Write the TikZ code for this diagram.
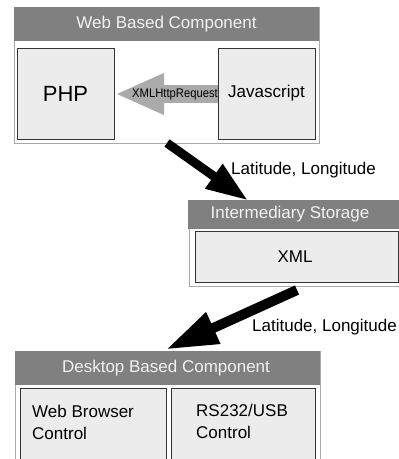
\documentclass[tikz,border=0pt]{standalone}
\usepackage{fontspec}
\setmainfont{Liberation Sans}
\usetikzlibrary{arrows.meta,calc}
\definecolor{tbar}{HTML}{808080}
\definecolor{ttext}{HTML}{F2F2F2}
\definecolor{ibox}{HTML}{ECECEC}
\definecolor{iline}{HTML}{333333}
\definecolor{oline}{HTML}{A8A8A8}
\definecolor{garrow}{HTML}{AAAAAA}
\tikzset{
  outerbox/.style={draw=oline,line width=0.9pt,fill=white},
  titlebar/.style={fill=tbar,text=ttext,inner sep=0pt,font=\fontsize{17}{20}\selectfont},
  innerbox/.style={draw=iline,fill=ibox,line width=1pt},
  lbl/.style={inner sep=0pt,font=\fontsize{17}{20}\selectfont},
  bigarrow/.style={line width=9pt,-{Triangle[length=42pt,width=28pt]}},
}
\begin{document}
\begin{tikzpicture}[x=1pt,y=-1pt]
\useasboundingbox (0,0) rectangle (399,459);
\clip (0,0) rectangle (399,459);
% Web Based Component
\draw[outerbox] (14,7) rectangle (319,143);
\fill[tbar] (14,7) rectangle (319,41);
\node[titlebar] (webtitle) at (166.5,24) {Web Based Component};
\draw[innerbox] (17,48) rectangle (114,139);
\node[lbl,font=\fontsize{22}{24}\selectfont] (php) at (65.5,93.5) {PHP};
\draw[innerbox] (218,48) rectangle (315,139);
\node[lbl] (js) at (266.5,93.5) {Javascript};
\coordinate (phpE) at (115,94);
\coordinate (jsW) at (217.5,94);
\begin{scope}[on background layer/.style={}]
\end{scope}
% XMLHttpRequest arrow (drawn under Javascript box edge)
\draw[garrow,line width=18pt,-{Triangle[length=49pt,width=38pt]}] (jsW) -- (phpE);
\draw[innerbox,fill=none] (218,48) rectangle (315,139);
\node[inner sep=0pt,font=\fontsize{12.5}{14}\selectfont,xscale=0.9] (xhr) at (175,94) {XMLHttpRequest};
% Intermediary Storage
\draw[outerbox] (189,200) rectangle (401,286);
\fill[tbar] (188,200) rectangle (401,229);
\node[titlebar] (istitle) at (290,214.5) {Intermediary Storage};
\draw[innerbox] (195,231) rectangle (398,282);
\node[lbl] (xml) at (295,256.5) {XML};
% Desktop Based Component
\draw[outerbox] (15,351) rectangle (320,470);
\fill[tbar] (15,351) rectangle (320,385);
\node[titlebar] (dtitle) at (166,368) {Desktop Based Component};
\draw[innerbox] (20,388) rectangle (166,470);
\node[lbl,anchor=west,align=left,font=\fontsize{17}{21.5}\selectfont] (wbc) at (32,422.5) {Web Browser\\Control};
\draw[innerbox] (171,388) rectangle (315,470);
\node[lbl,anchor=west,align=left,font=\fontsize{17}{22.5}\selectfont] (rs) at (196,421.5) {RS232/USB\\Control};
% big arrows
\coordinate (a1s) at (167,143);
\coordinate (a1e) at (248,200.5);
\draw[bigarrow] (a1s) -- (a1e);
\node[lbl,anchor=west] (lat1) at (231,170) {Latitude, Longitude};
\coordinate (a2s) at (297,290);
\coordinate (a2e) at (166,349.5);
\draw[line width=10pt,-{Triangle[length=52pt,width=32pt]}] (a2s) -- (a2e);
\node[lbl,anchor=west] (lat2) at (252,327) {Latitude, Longitude};
\end{tikzpicture}
\end{document}
